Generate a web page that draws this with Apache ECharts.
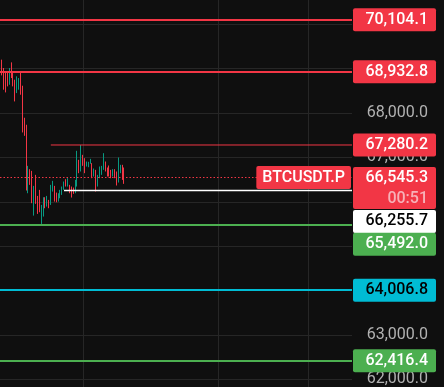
<!DOCTYPE html>
<html><head><meta charset="utf-8">
<script src="https://cdn.jsdelivr.net/npm/echarts@6/dist/echarts.min.js"></script>
<style>html,body{margin:0;padding:0;background:#0f0f0f}#c{width:444px;height:387px}</style>
</head><body><div id="c"></div>
<script>
// ---- data ----
const slotCount = 188;
const highs = [69451,69203,69015,68939,68902,69015,69142,68902,68751,68827,68789,68924,68616,67894,67736,66810,66735,66697,66359,66607,66133,66269,65930,66103,66103,66133,66043,66382,66472,66359,66208,66193,66269,66344,66457,66509,66532,66382,66344,66321,66494,67149,66946,67280,67058,66983,66908,66901,66968,66871,66750,66720,66607,66795,66810,67096,66908,66773,66818,66720,66735,66735,66683,66998,66833,66833,66773];
const lows  = [68375,68849,68526,68465,68601,68638,68789,68601,68262,68450,68526,68413,67563,67487,66254,66193,66382,65968,65689,65953,65727,65765,65501,65667,65855,65892,65855,65930,66231,66005,65990,66005,66080,66156,66269,66344,66344,66193,66096,66178,66193,66344,66645,66683,66810,66645,66795,66780,66856,66532,66570,66231,66344,66532,66607,66720,66683,66570,66570,66532,66570,66532,66367,66434,66645,66494,66404];
const directions = ['G','R','R','R','R','G','R','R','R','G','G','R','R','R','R','G','R','R','G','R','R','R','G','G','R','G','R','G','G','R','R','G','G','G','G','R','G','R','R','R','G','G','R','G','R','R','G','G','G','R','G','R','G','G','G','G','R','R','R','R','G','R','R','G','G','R','R'];
const lastClose = 66545.3;
const priceTicks = [62000,63000,64000,65000,66000,67000,68000,69000,70000];
const levelValues = [70104.1, 68932.8, 67280.2, 66545.3, 66255.7, 65492.0, 64006.8, 62416.4];
const symbolName = 'BTCUSDT.P';
const countdown = '00:51';

// ---- style config ----
const RED = '#f23645', GREEN = '#4caf50', CYAN = '#00bcd4', UP = '#089981';
const levelKinds = ['red','red','red','cur','white','green','cyan','green'];
const levelLine = {
  red:   {color: RED, width: 2, type: 'solid'},
  cur:   {color: RED, width: 1, type: [1.5, 2]},
  white: {color: '#ffffff', width: 1.5, type: 'solid'},
  green: {color: GREEN, width: 2, type: 'solid'},
  cyan:  {color: CYAN, width: 2, type: 'solid'}
};
const levelStartIndex = [null, null, 27, null, 34, null, null, null];
const levelWidths = [2, 2, 1, 1, 1.5, 2, 2, 2];
// label pushed down (stacked) by a spacer line above it: height of spacer in px
const levelLabelGap = [0, 0, 0, 21, 62, 40, 0, 0];
const vGridIdx = [44, 116, 164];

const categories = Array.from({length: slotCount}, (_, i) => String(i));
const candleData = highs.map((h, i) => {
  const l = lows[i];
  let o, c;
  if (directions[i] === 'G') { o = l; c = h; } else { o = h; c = l; }
  if (i === highs.length - 1) c = lastClose;
  return [o, c, l, h];
});

const fmt = v => v.toLocaleString('en-US', {minimumFractionDigits: 1, maximumFractionDigits: 1});

const styleOf = i => Object.assign({}, levelLine[levelKinds[i]], {width: levelWidths[i]});
const markData = [];
const raySeries = [];
levelValues.forEach((v, i) => {
  if (levelStartIndex[i] != null) {
    raySeries.push({
      type: 'line', data: [[levelStartIndex[i], v], [slotCount - 1, v]],
      symbol: 'none', silent: true, z: 3, animation: false,
      lineStyle: styleOf(i), itemStyle: {color: styleOf(i).color}
    });
  } else {
    markData.push({yAxis: v, lineStyle: styleOf(i)});
  }
});

const FONT = 'Roboto';
const box = (bg, color, extra) => Object.assign({
  backgroundColor: bg, color: color, fontFamily: FONT, fontSize: 16, fontWeight: 500,
  width: 67, padding: [0, 8, 0, 8], height: 23, lineHeight: 23, align: 'right', borderRadius: 2
}, extra || {});

const rich = {
  red: box(RED, '#ffffff'),
  green: box(GREEN, '#ffffff'),
  cyan: box(CYAN, '#000000'),
  white: box('#ffffff', '#000000'),
  curA: box(RED, '#ffffff', {height: 21, lineHeight: 21, borderRadius: [2, 2, 0, 0]}),
  curB: box(RED, '#f7b1b8', {height: 21, lineHeight: 21, borderRadius: [0, 0, 2, 2]})
};
levelLabelGap.forEach(g => { if (g) rich['gap' + g] = {height: g, lineHeight: g, fontSize: 8}; });

const yMin = 61826.5, yMax = 70547.6;

const chart = echarts.init(document.getElementById('c'), null, {renderer: 'canvas'});
chart.setOption({
  backgroundColor: '#0f0f0f',
  animation: false,
  grid: {left: 0, right: 92, top: 0, bottom: 0, outerBoundsMode: 'none'},
  xAxis: {
    type: 'category', data: categories, boundaryGap: false,
    axisLine: {show: false}, axisTick: {show: false}, axisLabel: {show: false},
    splitLine: {show: true, interval: (idx) => vGridIdx.includes(idx), lineStyle: {color: '#262626', width: 1}}
  },
  yAxis: [
    {
      type: 'value', position: 'right', min: yMin, max: yMax,
      axisLine: {show: false},
      axisTick: {show: false, customValues: priceTicks},
      splitLine: {show: true, lineStyle: {color: '#262626', width: 1}},
      axisLabel: {customValues: priceTicks, formatter: v => fmt(v), color: '#b2b2b2',
        fontFamily: FONT, fontSize: 16, align: 'right', margin: 76}
    },
    {
      type: 'value', position: 'right', min: yMin, max: yMax, z: 5,
      axisLine: {show: false}, axisTick: {show: false}, splitLine: {show: false},
      axisLabel: {
        customValues: levelValues, margin: 1, align: 'left',
        formatter: v => {
          const i = levelValues.indexOf(v);
          const k = levelKinds[i];
          const g = levelLabelGap[i];
          const pre = g ? '{gap' + g + '| }\n' : '';
          if (k === 'cur') return pre + '{curA|' + fmt(v) + '}\n{curB|' + countdown + '}';
          return pre + '{' + k + '|' + fmt(v) + '}';
        },
        rich: rich
      }
    },
    {
      type: 'value', position: 'right', min: yMin, max: yMax, z: 10,
      axisLine: {show: false}, axisTick: {show: false}, splitLine: {show: false},
      axisLabel: {
        customValues: [lastClose], inside: true, margin: 1, align: 'right',
        formatter: () => '{s|' + symbolName + '}',
        rich: {s: {backgroundColor: RED, color: '#ffffff', fontFamily: FONT, fontSize: 16, fontWeight: 500,
          padding: [0, 6, 0, 6], height: 23, lineHeight: 23, borderRadius: 2}}
      }
    }
  ],
  series: [{
    type: 'candlestick', data: candleData, barWidth: 1,
    itemStyle: {color: UP, color0: RED, borderColor: UP, borderColor0: RED, borderWidth: 1},
    markLine: {silent: true, symbol: ['none', 'none'], label: {show: false}, animation: false,
      data: markData}
  }].concat(raySeries)
});
</script></body></html>
